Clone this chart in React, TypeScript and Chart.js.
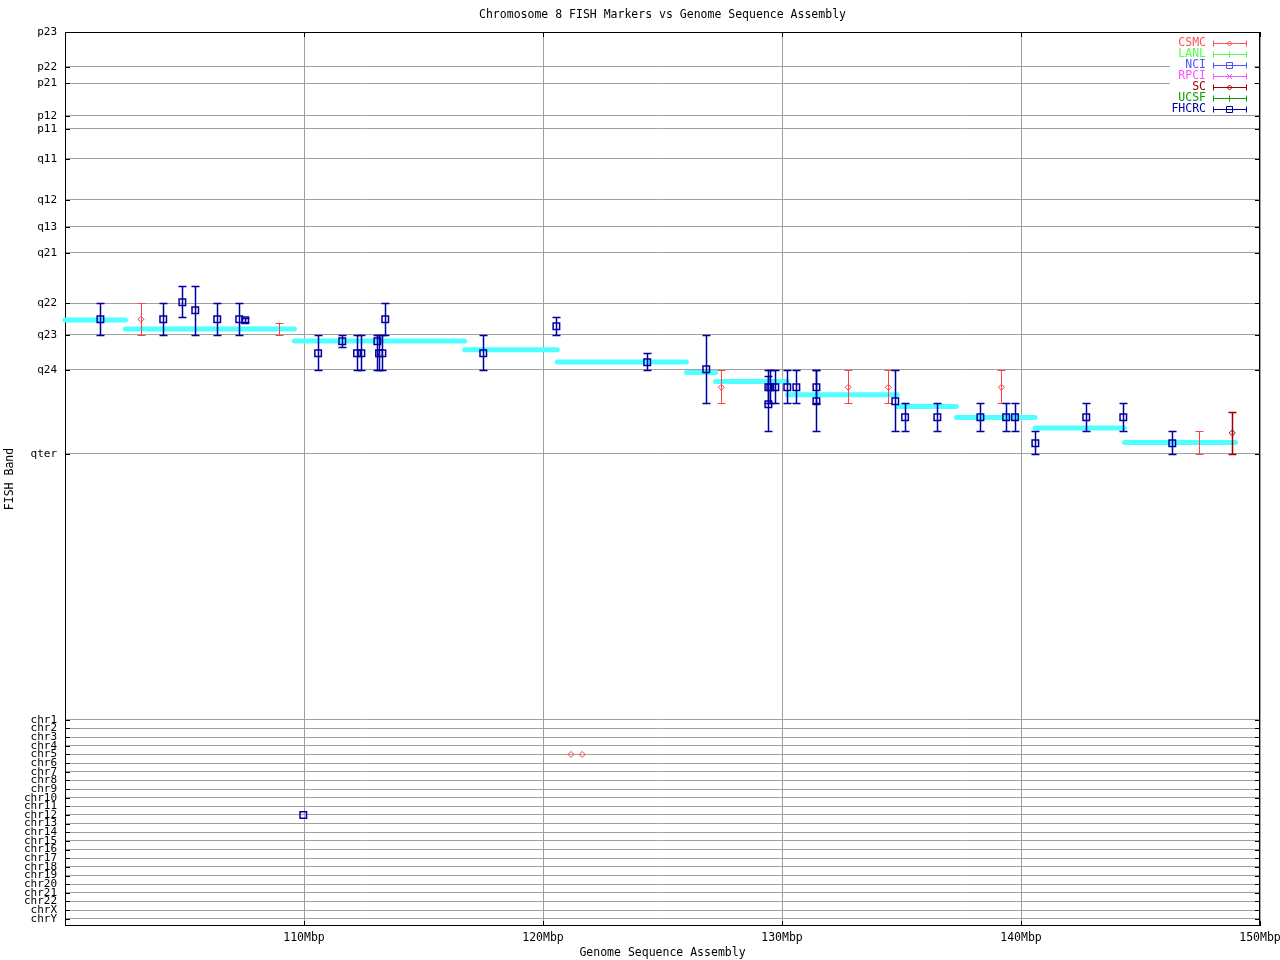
import React, { useEffect, useRef } from 'react';
import { Chart, registerables } from 'chart.js';

Chart.register(...registerables);

// ---------- Axis labels ----------
const bandLabels = ['p23', 'p22', 'p21', 'p12', 'p11', 'q11', 'q12', 'q13', 'q21', 'q22', 'q23', 'q24', 'qter'];
const bandPositionsMb = [0, 12.1, 17.7, 29.1, 33.6, 44.0, 58.2, 67.6, 76.6, 94.05, 105.04, 117.18, 146.3];
const chromLabels = ['chr1', 'chr2', 'chr3', 'chr4', 'chr5', 'chr6', 'chr7', 'chr8', 'chr9', 'chr10', 'chr11', 'chr12',
  'chr13', 'chr14', 'chr15', 'chr16', 'chr17', 'chr18', 'chr19', 'chr20', 'chr21', 'chr22', 'chrX', 'chrY'];
const chromRowStart = 238.5;
const chromRowStep = 3;
const xTickValues = [100, 110, 120, 130, 140, 150];
const xTickLabels = ['', '110Mbp', '120Mbp', '130Mbp', '140Mbp', '150Mbp'];

// ---------- Assembly band segments (cyan) ----------
const assemblyStart = [100.0, 102.53, 109.6, 116.72, 120.6, 126.0, 127.22, 130.23, 134.82, 137.3, 140.59, 144.33];
const assemblyEnd = [102.53, 109.6, 116.72, 120.6, 126.0, 127.22, 130.23, 134.82, 137.3, 140.59, 144.33, 148.98];
const assemblyBandMb = [99.84, 102.96, 107.12, 110.14, 114.4, 118.11, 121.23, 125.78, 129.9, 133.71, 137.29, 142.38];

// ---------- FHCRC markers ----------
const fhcrcX = [101.48, 104.11, 104.91, 105.45, 106.37, 107.29, 107.54, 110.59, 111.6, 112.22, 112.4, 113.07, 113.14,
  113.28, 113.4, 117.5, 120.56, 124.36, 126.83, 129.43, 129.43, 129.51, 129.72, 130.22, 130.6, 131.44, 131.44,
  134.74, 135.15, 136.5, 138.3, 139.38, 139.75, 140.6, 142.73, 144.28, 146.33];
const fhcrcY = [99.6, 99.6, 93.71, 96.48, 99.6, 99.6, 99.95, 111.39, 107.23, 111.39, 111.39, 107.23, 111.39,
  111.39, 99.6, 111.39, 102.03, 114.51, 116.93, 123.18, 129.07, 123.18, 123.18, 123.18, 123.18, 123.18, 128.03,
  128.03, 133.58, 133.58, 133.58, 133.58, 133.58, 142.59, 133.58, 133.58, 142.59];
const fhcrcLow = [94.05, 94.05, 88.16, 88.16, 94.05, 94.05, 99.3, 105.04, 105.04, 105.04, 105.04, 105.04, 105.04,
  105.04, 94.05, 105.04, 98.91, 111.39, 105.04, 117.18, 119.36, 117.18, 117.18, 117.18, 117.18, 117.18, 117.18,
  117.18, 128.72, 128.72, 128.72, 128.72, 128.72, 138.33, 128.72, 128.72, 138.33];
const fhcrcHigh = [105.04, 105.04, 98.91, 105.04, 105.04, 105.04, 100.6, 117.18, 109.31, 117.18, 117.18, 117.18, 117.18,
  117.18, 105.04, 117.18, 105.04, 117.18, 128.72, 128.72, 138.33, 128.72, 128.72, 128.72, 128.72, 128.72, 138.33,
  138.33, 138.33, 138.33, 138.33, 138.33, 138.33, 146.3, 138.33, 138.33, 146.3];
const fhcrcChromX = [109.97];
const fhcrcChrom = ['chr12'];

// ---------- CSMC markers ----------
const csmcX = [103.18, 127.46, 132.77, 134.45, 139.18];
const csmcY = [99.6, 123.18, 123.18, 123.18, 123.18];
const csmcLow = [94.05, 117.18, 117.18, 117.18, 117.18];
const csmcHigh = [105.04, 128.72, 128.72, 128.72, 128.72];
const csmcChromX = [121.17, 121.64];
const csmcChrom = ['chr5', 'chr5'];
// CSMC ranges drawn without a visible marker
const csmcRangeX = [108.95, 147.45];
const csmcRangeLow = [100.99, 138.33];
const csmcRangeHigh = [105.04, 146.3];

// ---------- SC markers ----------
const scX = [148.84];
const scY = [139.02];
const scLow = [131.84];
const scHigh = [146.3];

// ---------- Legend ----------
const legendNames = ['CSMC', 'LANL', 'NCI', 'RPCI', 'SC', 'UCSF', 'FHCRC'];
const legendColors = ['#ff5050', '#50ff50', '#5050ff', '#ff50ff', '#a00000', '#00a000', '#0000a0'];
const legendMarkers = ['diamond', 'plus', 'square', 'cross', 'diamond', 'plus', 'square'];

const FONT = "'DejaVu Sans Mono', monospace";
const chromValue = (name: string) => chromRowStart + chromLabels.indexOf(name) * chromRowStep;
const yTickValues = [...bandPositionsMb, ...chromLabels.map((_, i) => chromRowStart + i * chromRowStep)];
const yTickLabels = [...bandLabels, ...chromLabels];

function drawMarker(ctx: CanvasRenderingContext2D, kind: string, x: number, y: number) {
  ctx.beginPath();
  if (kind === 'square') {
    ctx.rect(x - 3, y - 3, 6, 6);
  } else if (kind === 'diamond') {
    ctx.moveTo(x, y - 2.5); ctx.lineTo(x + 2.5, y); ctx.lineTo(x, y + 2.5); ctx.lineTo(x - 2.5, y); ctx.closePath();
  } else if (kind === 'plus') {
    ctx.moveTo(x, y - 3); ctx.lineTo(x, y + 3);
  } else if (kind === 'cross') {
    ctx.moveTo(x - 2.5, y - 2.5); ctx.lineTo(x + 2.5, y + 2.5);
    ctx.moveTo(x + 2.5, y - 2.5); ctx.lineTo(x - 2.5, y + 2.5);
  }
  ctx.stroke();
}

const fishPlugin = {
  id: 'fishPlugin',
  beforeDatasetsDraw(chart: any) {
    const { ctx, chartArea } = chart;
    ctx.save();
    ctx.strokeStyle = '#000';
    ctx.lineWidth = 1;
    ctx.strokeRect(chartArea.left + 0.5, chartArea.top + 0.5, chartArea.right - chartArea.left - 1, chartArea.bottom - chartArea.top - 1);
    ctx.restore();
  },
  beforeDatasetDraw(chart: any, args: any) {
    const ds = chart.data.datasets[args.index];
    if (!ds.errLow) return;
    const { ctx } = chart;
    const xs = chart.scales.x;
    const ys = chart.scales.y;
    ctx.save();
    ctx.strokeStyle = ds.errColor;
    ctx.lineWidth = ds.errWidth;
    const off = 0.5;
    ds.data.forEach((p: any, i: number) => {
      const lo = ds.errLow[i];
      const hi = ds.errHigh[i];
      if (lo == null || hi == null) return;
      const px = Math.round(xs.getPixelForValue(p.x)) + off;
      const y1 = Math.round(ys.getPixelForValue(lo)) + off;
      const y2 = Math.round(ys.getPixelForValue(hi)) + off;
      ctx.beginPath();
      ctx.moveTo(px, y1); ctx.lineTo(px, y2);
      ctx.moveTo(px - 4, y1); ctx.lineTo(px + 4, y1);
      ctx.moveTo(px - 4, y2); ctx.lineTo(px + 4, y2);
      ctx.stroke();
    });
    ctx.restore();
  },
  afterDraw(chart: any) {
    const { ctx, chartArea } = chart;
    const { left, right, top, bottom } = chartArea;
    ctx.save();
    // title
    ctx.fillStyle = '#000';
    ctx.font = `11.5px ${FONT}`;
    ctx.textAlign = 'center';
    ctx.textBaseline = 'middle';
    ctx.fillText('Chromosome 8 FISH Markers vs Genome Sequence Assembly', (left + right) / 2, 15);

    // legend
    ctx.fillStyle = '#fff';
    ctx.fillRect(right - 90, top + 1, 84, 81);
    legendNames.forEach((name, i) => {
      const y = Math.round(top + 11 + i * 11) + 0.5;
      ctx.fillStyle = legendColors[i];
      ctx.strokeStyle = legendColors[i];
      ctx.textAlign = 'right';
      ctx.textBaseline = 'middle';
      ctx.fillText(name, right - 54, y);
      ctx.lineWidth = 1;
      ctx.beginPath();
      ctx.moveTo(right - 47, y); ctx.lineTo(right - 13, y);
      ctx.moveTo(right - 46.5, y - 3); ctx.lineTo(right - 46.5, y + 3);
      ctx.moveTo(right - 13.5, y - 3); ctx.lineTo(right - 13.5, y + 3);
      ctx.stroke();
      drawMarker(ctx, legendMarkers[i], right - 30.5, y);
    });

    // inward ticks
    ctx.strokeStyle = '#000';
    ctx.lineWidth = 1;
    ctx.beginPath();
    chart.scales.y.ticks.forEach((t: any) => {
      const py = Math.round(chart.scales.y.getPixelForValue(t.value)) + 0.5;
      ctx.moveTo(left, py); ctx.lineTo(left + 5, py);
      ctx.moveTo(right - 5, py); ctx.lineTo(right, py);
    });
    chart.scales.x.ticks.forEach((t: any) => {
      const px = Math.round(chart.scales.x.getPixelForValue(t.value)) + 0.5;
      ctx.moveTo(px, bottom); ctx.lineTo(px, bottom - 5);
      ctx.moveTo(px, top); ctx.lineTo(px, top + 5);
    });
    ctx.stroke();
    ctx.restore();
  },
};

export default function App() {
  const ref = useRef<HTMLCanvasElement>(null);
  useEffect(() => {
    document.body.style.margin = '0';
    const canvas = ref.current!;

    const segDatasets = assemblyStart.map((s, i) => ({
      type: 'line' as const,
      data: [{ x: s, y: assemblyBandMb[i] }, { x: assemblyEnd[i], y: assemblyBandMb[i] }],
      borderColor: '#50ffff',
      borderWidth: 5,
      borderCapStyle: 'round' as const,
      pointRadius: 0,
      fill: false,
      order: 10,
      clip: false as any,
    }));

    const fhcrcData = [
      ...fhcrcX.map((x, i) => ({ x, y: fhcrcY[i] })),
      ...fhcrcChromX.map((x, i) => ({ x, y: chromValue(fhcrcChrom[i]) })),
    ];
    const csmcData = [
      ...csmcX.map((x, i) => ({ x, y: csmcY[i] })),
      ...csmcChromX.map((x, i) => ({ x, y: chromValue(csmcChrom[i]) })),
    ];

    const chart = new Chart(canvas, {
      type: 'scatter',
      data: {
        datasets: [
          ...segDatasets,
          {
            type: 'scatter',
            label: 'CSMC range',
            data: csmcRangeX.map((x, i) => ({ x, y: csmcRangeLow[i] })),
            pointRadius: 0,
            order: 3,
            errLow: csmcRangeLow, errHigh: csmcRangeHigh, errColor: '#ff4040', errWidth: 1,
          } as any,
          {
            type: 'scatter',
            label: 'SC',
            data: scX.map((x, i) => ({ x, y: scY[i] })),
            pointStyle: 'rectRot',
            pointRadius: 3,
            pointBorderWidth: 1,
            pointBorderColor: '#a00000',
            pointBackgroundColor: 'rgba(0,0,0,0)',
            order: 2,
            errLow: scLow, errHigh: scHigh, errColor: '#a00000', errWidth: 1.5,
          } as any,
          {
            type: 'scatter',
            label: 'CSMC',
            data: csmcData,
            pointStyle: 'rectRot',
            pointRadius: 3,
            pointBorderWidth: 1,
            pointBorderColor: '#ff4040',
            pointBackgroundColor: 'rgba(0,0,0,0)',
            order: 1,
            errLow: csmcLow, errHigh: csmcHigh, errColor: '#ff4040', errWidth: 1,
          } as any,
          {
            type: 'scatter',
            label: 'FHCRC',
            data: fhcrcData,
            pointStyle: 'rect',
            pointRadius: 4.6,
            pointBorderWidth: 1.5,
            pointBorderColor: '#0000a0',
            pointBackgroundColor: 'rgba(0,0,0,0)',
            order: 0,
            errLow: fhcrcLow, errHigh: fhcrcHigh, errColor: '#0000a0', errWidth: 1.5,
          } as any,
        ],
      },
      options: {
        animation: false,
        responsive: false,
        devicePixelRatio: 1,
        events: [],
        layout: { padding: { top: 32, right: 20, bottom: 0, left: 0 } },
        plugins: {
          legend: { display: false },
          title: { display: false },
          tooltip: { enabled: false },
        },
        scales: {
          x: {
            type: 'linear',
            min: 100,
            max: 150,
            afterBuildTicks: (scale: any) => { scale.ticks = xTickValues.map((v) => ({ value: v })); },
            ticks: {
              autoSkip: false,
              maxRotation: 0,
              padding: 5,
              color: '#000',
              font: { family: FONT, size: 11.5 },
              callback: (_v: any, i: number) => xTickLabels[i],
            },
            grid: { color: '#a0a0a0', drawTicks: false },
            border: { display: false },
            title: {
              display: true,
              text: 'Genome Sequence Assembly',
              color: '#000',
              font: { family: FONT, size: 11.5 },
              padding: { top: 0, bottom: 0 },
            },
            afterFit: (scale: any) => { scale.height = 34; scale.paddingLeft = 0; scale.paddingRight = 0; },
          },
          y: {
            type: 'linear',
            reverse: true,
            min: 0,
            max: 310,
            afterBuildTicks: (scale: any) => { scale.ticks = yTickValues.map((v) => ({ value: v })); },
            ticks: {
              autoSkip: false,
              padding: 8,
              color: '#000',
              font: { family: FONT, size: 11 },
              callback: (_v: any, i: number) => yTickLabels[i],
            },
            grid: { color: '#a0a0a0', drawTicks: false },
            border: { display: false },
            title: {
              display: true,
              text: 'FISH Band',
              color: '#000',
              font: { family: FONT, size: 11.5 },
              padding: { top: 3, bottom: 0 },
            },
            afterFit: (scale: any) => { scale.width = 65; scale.paddingTop = 0; scale.paddingBottom = 0; },
          },
        },
      } as any,
      plugins: [fishPlugin],
    });
    return () => chart.destroy();
  }, []);

  return (
    <div style={{ width: 1280, height: 960 }}>
      <canvas ref={ref} width={1280} height={960} style={{ display: 'block' }} />
    </div>
  );
}
